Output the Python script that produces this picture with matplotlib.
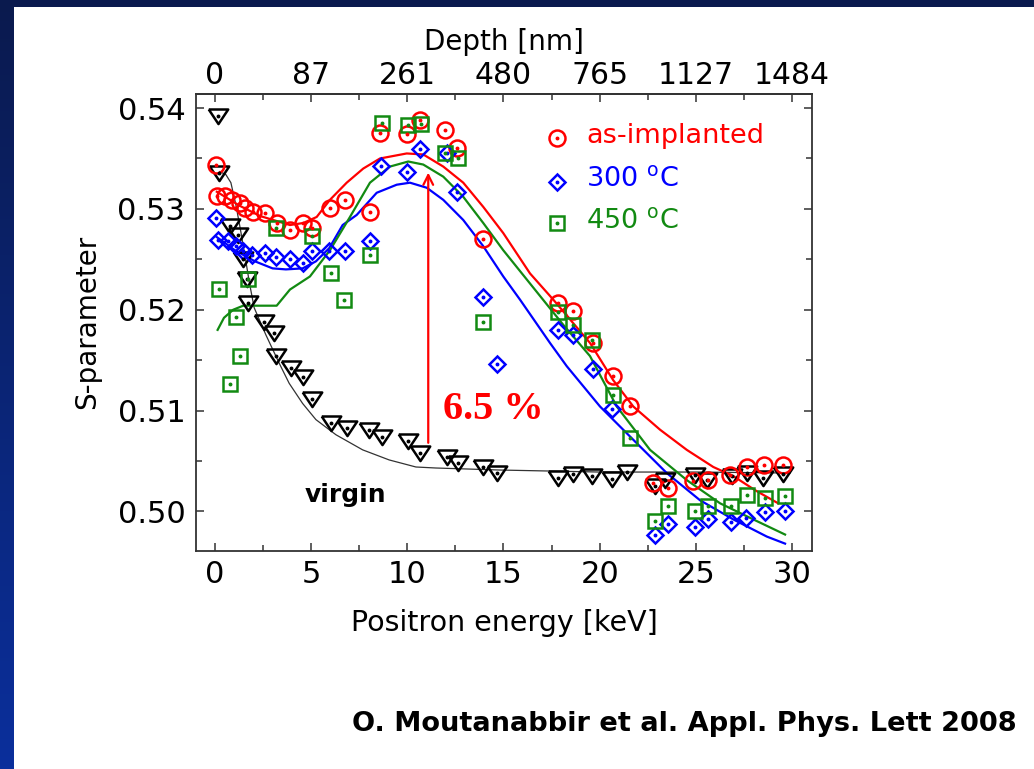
import numpy as np
import matplotlib
matplotlib.use('Agg')
import matplotlib.pyplot as plt
from matplotlib.colors import LinearSegmentedColormap
from matplotlib.patches import Rectangle
from matplotlib.ticker import MultipleLocator, FormatStrFormatter

# ---------------- data ----------------
# as-implanted (red circles)
red_E = [0.05, 0.12, 0.52, 0.87, 1.30, 1.56, 1.99, 2.60, 3.21, 3.90, 4.59, 5.03, 5.98, 6.76,
         8.06, 8.58, 9.97, 10.66, 11.96, 12.57, 13.95, 17.85, 18.63, 19.67, 20.69, 21.58,
         22.79, 23.57, 24.87, 25.65, 26.78, 27.65, 28.55, 29.55]
red_S = [0.5344, 0.5313, 0.5313, 0.5309, 0.5306, 0.5301, 0.5297, 0.5296, 0.5286, 0.5279,
         0.5286, 0.5281, 0.5301, 0.5309, 0.5297, 0.5375, 0.5374, 0.5388, 0.5378, 0.5360,
         0.5270, 0.5207, 0.5199, 0.5167, 0.5134, 0.5105, 0.5028, 0.5023, 0.5030, 0.5031,
         0.5036, 0.5044, 0.5046, 0.5046]

# 300 C (blue diamonds)
blue_E = [0.08, 0.16, 0.70, 1.12, 1.47, 1.91, 2.60, 3.15, 3.90, 4.58, 5.04, 5.95, 6.76,
          8.06, 8.63, 10.01, 10.66, 12.04, 12.58, 13.96, 14.65, 17.81, 18.63, 19.63, 20.62,
          22.88, 23.57, 24.96, 25.64, 26.83, 27.61, 28.60, 29.64]
blue_S = [0.5291, 0.5269, 0.5268, 0.5263, 0.5258, 0.5254, 0.5256, 0.5252, 0.5250, 0.5246,
          0.5258, 0.5258, 0.5258, 0.5268, 0.5343, 0.5337, 0.5359, 0.5355, 0.5317, 0.5213,
          0.5146, 0.5180, 0.5175, 0.5141, 0.5102, 0.4977, 0.4987, 0.4984, 0.4992, 0.4989,
          0.4993, 0.4999, 0.5000]

# 450 C (green squares)
green_E = [0.19, 0.78, 1.09, 1.30, 1.70, 3.17, 5.04, 6.03, 6.72, 8.06, 8.67, 10.05, 10.69,
           11.98, 12.65, 13.95, 17.85, 18.63, 19.59, 20.68, 21.58, 22.88, 23.57, 24.96,
           25.65, 26.82, 27.65, 28.60, 29.64]
green_S = [0.5221, 0.5126, 0.5193, 0.5154, 0.5230, 0.5281, 0.5273, 0.5236, 0.5210, 0.5254,
           0.5385, 0.5383, 0.5384, 0.5355, 0.5350, 0.5188, 0.5198, 0.5185, 0.5170, 0.5115,
           0.5073, 0.4990, 0.5005, 0.5000, 0.5005, 0.5005, 0.5016, 0.5013, 0.5015]

# virgin (black triangles)
virgin_E = [0.17, 0.22, 0.78, 1.21, 1.47, 1.65, 1.73, 2.56, 3.08, 3.17, 3.95, 4.56, 5.04,
            6.03, 6.85, 8.02, 8.67, 10.02, 10.68, 12.05, 12.65, 13.95, 14.65, 17.85, 18.63,
            19.59, 20.63, 21.41, 22.88, 23.40, 24.96, 25.60, 26.87, 27.65, 28.51, 29.55]
virgin_S = [0.5392, 0.5336, 0.5283, 0.5274, 0.5250, 0.5230, 0.5207, 0.5188, 0.5177, 0.5154,
            0.5142, 0.5133, 0.5111, 0.5088, 0.5083, 0.5081, 0.5074, 0.5070, 0.5058, 0.5054,
            0.5048, 0.5044, 0.5038, 0.5033, 0.5037, 0.5035, 0.5032, 0.5039, 0.5025, 0.5031,
            0.5036, 0.5031, 0.5035, 0.5038, 0.5033, 0.5037]

# fitted curves
red_fit_E = [0.1, 1.30, 2.34, 3.38, 3.90, 4.59, 5.29, 5.98, 6.85, 7.71, 8.58, 9.97, 10.83,
             11.87, 12.91, 13.95, 14.99, 16.38, 17.59, 19.50, 20.71, 21.75, 23.14, 24.53,
             25.91, 26.95, 28.08, 29.28]
red_fit_S = [0.5317, 0.5303, 0.5293, 0.5287, 0.5284, 0.5286, 0.5292, 0.5309, 0.5326, 0.5340,
             0.5350, 0.5355, 0.5354, 0.5342, 0.5326, 0.5302, 0.5276, 0.5236, 0.5210, 0.5167,
             0.5130, 0.5104, 0.5081, 0.5061, 0.5044, 0.5035, 0.5021, 0.5008]

blue_fit_E = [0.1, 1.04, 2.08, 3.00, 3.69, 4.56, 5.25, 5.94, 6.64, 7.37, 8.41, 9.45, 10.14,
              11.01, 11.87, 12.91, 13.95, 14.99, 15.86, 17.42, 18.29, 20.02, 21.75, 23.49,
              25.22, 26.95, 28.69, 29.64]
blue_fit_S = [0.5272, 0.5259, 0.5248, 0.5241, 0.5240, 0.5241, 0.5248, 0.5261, 0.5284, 0.5294,
              0.5316, 0.5324, 0.5326, 0.5321, 0.5309, 0.5289, 0.5263, 0.5233, 0.5210, 0.5167,
              0.5144, 0.5104, 0.5071, 0.5038, 0.5011, 0.4992, 0.4975, 0.4968]

green_fit_E = [0.14, 0.47, 0.95, 1.47, 3.21, 3.90, 4.94, 5.98, 7.02, 8.06, 9.10, 10.05, 10.83,
               11.87, 12.91, 13.95, 14.99, 16.38, 18.11, 19.50, 20.89, 22.62, 24.53, 26.26,
               27.99, 29.64]
green_fit_S = [0.5180, 0.5192, 0.5200, 0.5204, 0.5204, 0.5220, 0.5233, 0.5259, 0.5292, 0.5326,
               0.5342, 0.5347, 0.5344, 0.5332, 0.5312, 0.5286, 0.5259, 0.5226, 0.5185, 0.5154,
               0.5104, 0.5061, 0.5031, 0.5008, 0.4992, 0.4977]

virgin_fit_E = [0.25, 0.57, 0.83, 1.09, 1.35, 1.61, 1.78, 2.04, 2.65, 3.34, 3.86, 4.56, 5.25,
                6.29, 7.68, 9.06, 10.45, 11.49, 14.8, 20.0, 25.2, 29.9]
virgin_fit_S = [0.5337, 0.5334, 0.5326, 0.5304, 0.5277, 0.5248, 0.5228, 0.5202, 0.5175, 0.5147,
                0.5127, 0.5107, 0.5091, 0.5076, 0.5061, 0.5051, 0.5044, 0.5043, 0.5041, 0.5039,
                0.5039, 0.5038]

energy_ticks = [0, 5, 10, 15, 20, 25, 30]
depth_labels = ['0', '87', '261', '480', '765', '1127', '1484']
legend_labels = ['as-implanted', '300 $^{\\mathrm{o}}$C', '450 $^{\\mathrm{o}}$C']

RED = '#ff0000'
BLUE = '#0000ff'
GREEN = '#128a12'

# ---------------- figure ----------------
fig = plt.figure(figsize=(10.34, 7.69), dpi=100)
fig.patch.set_facecolor('white')

# slide border (dark blue)
axl = fig.add_axes([0, 0, 14 / 1034, 1])
axl.imshow(np.linspace(0, 1, 256).reshape(-1, 1), aspect='auto',
           cmap=LinearSegmentedColormap.from_list('b', ['#0a1a4e', '#0a2f9c']),
           extent=[0, 1, 0, 1])
axl.axis('off')
fig.add_artist(Rectangle((0, 1 - 7 / 769), 1, 7 / 769, transform=fig.transFigure,
                         facecolor='#0a1a4e', edgecolor='none'))

ax = fig.add_axes([0.1900, 0.2839, 0.5953, 0.5939])
ax.set_xlim(-0.96, 31.04)
ax.set_ylim(0.4961, 0.5414)

# fits
ax.plot(virgin_fit_E, virgin_fit_S, color='#333333', lw=0.9, zorder=2)
ax.plot(red_fit_E, red_fit_S, color=RED, lw=1.6, zorder=2)
ax.plot(blue_fit_E, blue_fit_S, color=BLUE, lw=1.6, zorder=2)
ax.plot(green_fit_E, green_fit_S, color=GREEN, lw=1.6, zorder=2)

tri = [(-1, 0.72), (1, 0.72), (0, -0.78), (-1, 0.72)]
ms_kw = dict(ls='none', mfc='none', mew=1.8, zorder=3)
ax.plot(virgin_E, virgin_S, marker=tri, ms=14, mec='black', **ms_kw)
ax.plot(red_E, red_S, marker='o', ms=11.5, mec=RED, **ms_kw)
ax.plot(blue_E, blue_S, marker='D', ms=8.5, mec=BLUE, **ms_kw)
ax.plot(green_E, green_S, marker='s', ms=10, mec=GREEN, **ms_kw)
for E, S, c in [(virgin_E, virgin_S, 'black'), (red_E, red_S, RED),
                (blue_E, blue_S, BLUE), (green_E, green_S, GREEN)]:
    ax.plot(E, S, ls='none', marker='o', ms=1.8, mfc=c, mec=c, zorder=4)

# legend (hand placed)
leg_marks = [('o', 11.5, RED), ('D', 8.5, BLUE), ('s', 10, GREEN)]
leg_y = [0.5370, 0.5327, 0.5286]
for (m, s, c), y, lab in zip(leg_marks, leg_y, legend_labels):
    ax.plot([17.78], [y], marker=m, ms=s, mec=c, mfc='none', mew=1.8, ls='none')
    ax.plot([17.78], [y], marker='o', ms=1.8, mec=c, mfc=c, ls='none')
    ax.text(19.3, y + 0.0002, lab, color=c, fontsize=19.5, va='center', ha='left')

# arrow + annotations
ax.annotate('', xy=(11.09, 0.5336), xytext=(11.09, 0.5068),
            arrowprops=dict(arrowstyle='->,head_length=0.7,head_width=0.35',
                            color=RED, lw=1.6, shrinkA=0, shrinkB=0))
ax.text(11.86, 0.5101, '6.5 %', color=RED, fontsize=29, fontweight='bold',
        family='Liberation Serif', va='center', ha='left')
ax.text(6.76, 0.5016, 'virgin', color='black', fontsize=18, fontweight='bold',
        va='center', ha='center')

# axes styling
for sp in ax.spines.values():
    sp.set_color('#333333')
    sp.set_linewidth(1.3)
ax.xaxis.set_major_locator(MultipleLocator(5))
ax.xaxis.set_minor_locator(MultipleLocator(2.5))
ax.yaxis.set_major_locator(MultipleLocator(0.01))
ax.yaxis.set_minor_locator(MultipleLocator(0.005))
ax.yaxis.set_major_formatter(FormatStrFormatter('%.2f'))
ax.tick_params(which='both', direction='in', top=False, right=True, color='#333333')
ax.tick_params(which='major', length=5.5, width=1.1, labelsize=22, pad=8)
ax.tick_params(axis='x', which='major', pad=7)
ax.tick_params(which='minor', length=4, width=1.1)

sec = ax.secondary_xaxis('top')
sec.set_xticks(energy_ticks, labels=depth_labels)
sec.xaxis.set_minor_locator(MultipleLocator(2.5))
sec.tick_params(which='both', direction='in', color='#333333', width=1.1)
sec.tick_params(which='major', length=5.5, labelsize=21.5, pad=3)
sec.tick_params(which='minor', length=4)
sec.spines['top'].set_linewidth(1.3)
sec.spines['top'].set_color('#333333')
sec.set_xlabel('Depth [nm]', fontsize=20, labelpad=8)

ax.set_xlabel('Positron energy [keV]', fontsize=20.5, labelpad=14)
ax.set_ylabel('S-parameter', fontsize=20, labelpad=12)

fig.text(352 / 1034, 1 - 724 / 769, 'O. Moutanabbir et al. Appl. Phys. Lett 2008',
         fontsize=19.6, fontweight='bold', va='center', ha='left')

fig.savefig('out.png', dpi=100)
